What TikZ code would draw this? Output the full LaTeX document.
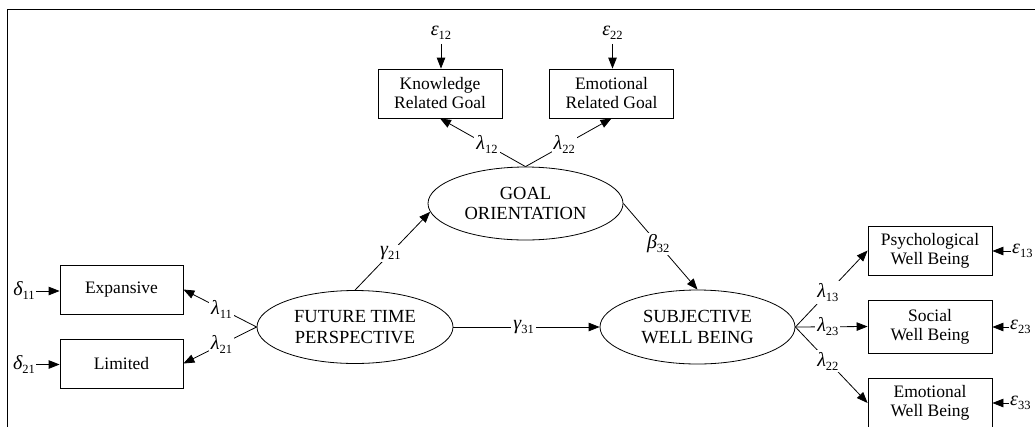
\documentclass[tikz,border=0pt]{standalone}
\usepackage{fontspec}
\setmainfont{Liberation Serif}
\usetikzlibrary{arrows.meta,shapes.geometric}
\newcommand{\gk}[2]{{\fontsize{20}{20}\selectfont\itshape #1}\raisebox{-4pt}{\fontsize{12.5}{12.5}\selectfont #2}}
\begin{document}
\begin{tikzpicture}[x=1pt,y=-1pt,
  box/.style={draw, line width=0.8pt, minimum width=124pt, minimum height=49pt, inner sep=0pt, align=center, font=\fontsize{17.5}{19}\selectfont},
  lat/.style={draw, ellipse, line width=0.8pt, minimum width=196pt, minimum height=73pt, inner sep=0pt, align=center, font=\fontsize{18.5}{20.5}\selectfont},
  arr/.style={line width=0.8pt, -{Triangle[length=11pt,width=8.5pt]}},
  lbl/.style={fill=white, inner sep=2pt},
  err/.style={inner sep=1pt}]
\useasboundingbox (0,0) rectangle (1035,426);
\clip (0,0) rectangle (1035,426);
\draw[line width=1.7pt] (7.5,9.5) rectangle (1060,460);
% boxes and latent variables
\node[box] (kg) at (440,93.5) {Knowledge\\Related Goal};
\node[box] (eg) at (611.5,93.5) {Emotional\\Related Goal};
\node[lat, minimum width=195pt] (go) at (525.5,203.5) {GOAL\\ORIENTATION};
\node[lat] (ftp) at (355,327) {FUTURE TIME\\PERSPECTIVE};
\node[lat, minimum width=195pt, minimum height=74pt] (swb) at (697.5,327) {SUBJECTIVE\\WELL BEING};
\node[box, minimum width=123pt] (ex) at (121.5,289.5) {Expansive};
\node[box, minimum width=123pt] (li) at (121.5,363.5) {Limited};
\node[box] (pw) at (930,250.5) {Psychological\\Well Being};
\node[box, minimum height=53pt] (sw) at (930,326.5) {Social\\Well Being};
\node[box, minimum height=50pt] (ew) at (930,403) {Emotional\\Well Being};
% error terms
\node[err] (e12) at (441,33) {\gk{ε}{12}};
\node[err] (e22) at (612.5,33) {\gk{ε}{22}};
\node[err] (d11) at (24,291) {\gk{δ}{11}};
\node[err] (d21) at (24,364.5) {\gk{δ}{21}};
\node[err, anchor=west] (e13) at (1011,251) {\gk{ε}{13}};
\node[err, anchor=west] (e23) at (1009,327) {\gk{ε}{23}};
\node[err, anchor=west] (e33) at (1009,403) {\gk{ε}{33}};
\draw[arr, shorten <=3pt] (e12) -- (e12 |- kg.north);
\draw[arr, shorten <=3pt] (e22) -- (e22 |- eg.north);
\draw[arr] (d11.east) -- (d11.east -| ex.west);
\draw[arr] (d21.east) -- (d21.east -| li.west);
\draw[arr] (e13.west) -- (e13.west -| pw.east);
\draw[arr] (e23.west) -- (e23.west -| sw.east);
\draw[arr] (e33.west) -- (e33.west -| ew.east);
% structural paths
\draw[arr] (go.north) -- node[lbl,pos=0.45]{\gk{λ}{12}} (kg.south);
\draw[arr] (go.north) -- node[lbl,pos=0.45]{\gk{λ}{22}} (eg.south);
\draw[arr] (ftp.north) -- node[lbl,pos=0.47]{\gk{γ}{21}} (go.185);
\draw[arr] (ftp.east) -- node[lbl,pos=0.48]{\gk{γ}{31}} (swb.west);
\draw[arr] (go.east) -- node[lbl,pos=0.47]{\gk{β}{32}} (swb.north);
\draw[arr] (ftp.west) -- node[lbl,pos=0.48]{\gk{λ}{11}} (ex.east);
\draw[arr] (ftp.west) -- node[lbl,pos=0.48]{\gk{λ}{21}} (li.east);
\draw[arr] (swb.east) -- node[lbl,pos=0.45]{\gk{λ}{13}} (pw.west);
\draw[arr] (swb.east) -- node[lbl,pos=0.45]{\gk{λ}{23}} (sw.west);
\draw[arr] (swb.east) -- node[lbl,pos=0.45]{\gk{λ}{22}} (ew.west);
\end{tikzpicture}
\end{document}
